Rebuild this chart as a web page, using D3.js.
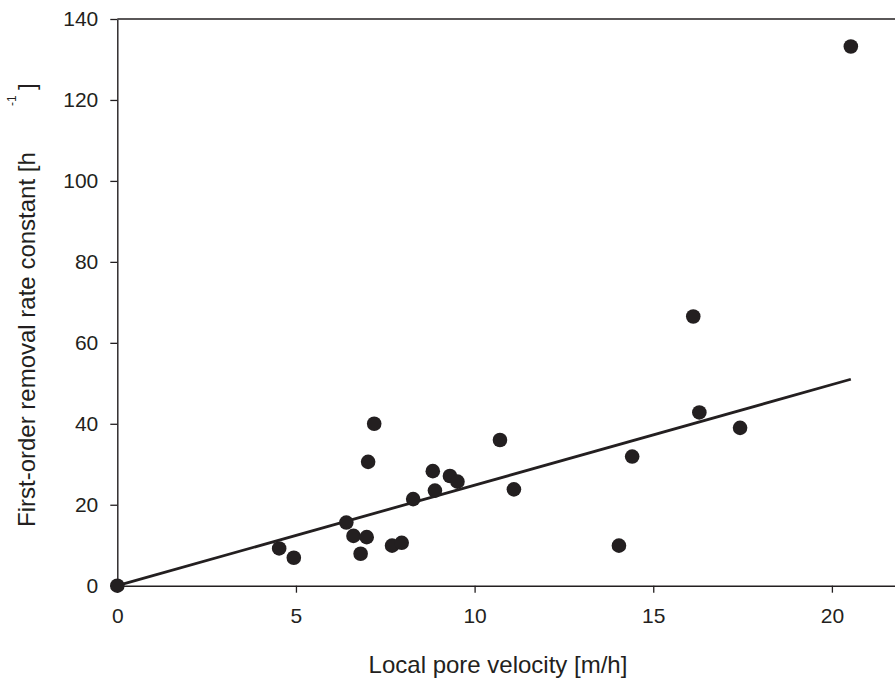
<!DOCTYPE html>
<html>
<head>
<meta charset="utf-8">
<script src="https://cdn.jsdelivr.net/npm/d3@7/dist/d3.min.js"></script>
<style>
  html, body { margin: 0; padding: 0; background: #fff; }
  svg { display: block; }
  text { font-family: "Liberation Sans", Arial, Helvetica, sans-serif; fill: #231f20; }
</style>
</head>
<body>
<svg id="chart" width="895" height="679"></svg>
<script>
// ---- data ----
const velocity = [0, 4.53, 4.94, 6.41, 6.61, 6.81, 6.98, 7.02, 7.19, 7.69, 7.96, 8.28, 8.83, 8.89, 9.31, 9.52, 10.71, 11.10, 14.04, 14.41, 16.12, 16.29, 17.43, 20.53];
const rateConst = [0, 9.2, 6.9, 15.6, 12.3, 7.9, 12.0, 30.6, 40.0, 9.9, 10.6, 21.4, 28.3, 23.5, 27.1, 25.7, 36.0, 23.8, 9.9, 31.9, 66.5, 42.8, 39.0, 133.2];
const fitX = [0, 20.53];
const fitY = [0, 51.0];
const xTicks = [0, 5, 10, 15, 20];
const yTicks = [0, 20, 40, 60, 80, 100, 120, 140];

const ink = "#231f20";
const svg = d3.select("#chart");

const x = d3.scaleLinear().domain([0, 22]).range([117.3, 117.3 + 22 * 35.73]);
const y = d3.scaleLinear().domain([0, 140]).range([585.7, 19]);

// top frame line
svg.append("line")
  .attr("x1", x(0)).attr("x2", 895)
  .attr("y1", y(140)).attr("y2", y(140))
  .attr("stroke", ink).attr("stroke-width", 1.4);

// x axis
const gx = svg.append("g").attr("transform", `translate(0,${y(0)})`)
  .call(d3.axisBottom(x).tickValues(xTicks).tickSizeOuter(0).tickSizeInner(7).tickPadding(15).tickFormat(d3.format("d")));
// y axis
const gy = svg.append("g").attr("transform", `translate(${x(0)},0)`)
  .call(d3.axisLeft(y).tickValues(yTicks).tickSizeOuter(0).tickSizeInner(7).tickPadding(12).tickFormat(d3.format("d")));

[gx, gy].forEach(g => {
  g.select(".domain").attr("stroke", ink).attr("stroke-width", 1.4);
  g.selectAll(".tick line").attr("stroke", ink).attr("stroke-width", 1.3);
  g.selectAll(".tick text").attr("fill", ink)
    .style("font-family", '"Liberation Sans", Arial, sans-serif')
    .style("font-size", "21px");
});

// regression line
const line = d3.line().x(d => x(d[0])).y(d => y(d[1]));
svg.append("path")
  .datum(fitX.map((v, i) => [v, fitY[i]]))
  .attr("d", line)
  .attr("fill", "none")
  .attr("stroke", ink)
  .attr("stroke-width", 2.8);

// points
svg.append("g").selectAll("circle")
  .data(velocity.map((v, i) => [v, rateConst[i]]))
  .join("circle")
  .attr("cx", d => x(d[0]))
  .attr("cy", d => y(d[1]))
  .attr("r", 7.3)
  .attr("fill", ink);

// x label
svg.append("text")
  .attr("x", 498).attr("y", 673)
  .attr("text-anchor", "middle")
  .style("font-size", "24px")
  .text("Local pore velocity [m/h]");

// y label (rotated)
const yl = svg.append("g").attr("transform", "translate(35,527) rotate(-90)");
yl.append("text").attr("x", 0).attr("y", 0)
  .style("font-size", "24px")
  .text("First-order removal rate constant [h");
yl.append("text").attr("x", 421).attr("y", -19)
  .style("font-size", "12px")
  .text("-1");
yl.append("text").attr("x", 437).attr("y", 0)
  .style("font-size", "24px")
  .text("]");
</script>
</body>
</html>
